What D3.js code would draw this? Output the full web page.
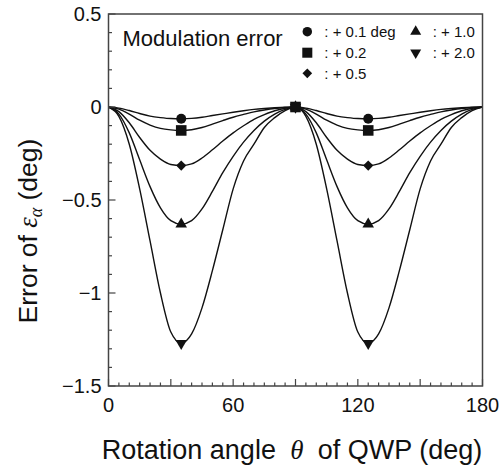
<!DOCTYPE html>
<html>
<head>
<meta charset="utf-8">
<script src="https://cdn.jsdelivr.net/npm/d3@7"></script>
<style>
  html, body { margin: 0; padding: 0; background: #fff; overflow: hidden; }
  svg { display: block; }
  text { font-family: "Liberation Sans", Arial, sans-serif; fill: #111; }
</style>
</head>
<body>
<svg id="chart" width="501" height="469"></svg>
<script>
// rotation angle of the QWP (deg)
const angles = [0, 5, 10, 15, 20, 25, 30, 35, 40, 45, 50, 55, 60, 65, 70, 75, 80, 85, 90,
  95, 100, 105, 110, 115, 120, 125, 130, 135, 140, 145, 150, 155, 160, 165, 170, 175, 180];

// error of epsilon_alpha (deg), one series per modulation error
const err01 = [0, -0.006, -0.019, -0.035, -0.049, -0.057, -0.062, -0.063, -0.061, -0.055, -0.046, -0.037, -0.028, -0.020, -0.013, -0.008, -0.004, -0.001, 0,
  -0.006, -0.019, -0.035, -0.049, -0.057, -0.062, -0.063, -0.061, -0.055, -0.046, -0.037, -0.028, -0.020, -0.013, -0.008, -0.004, -0.001, 0];
const err02 = [0, -0.011, -0.038, -0.071, -0.097, -0.115, -0.123, -0.126, -0.122, -0.110, -0.092, -0.073, -0.055, -0.040, -0.026, -0.016, -0.008, -0.003, 0,
  -0.011, -0.038, -0.071, -0.097, -0.115, -0.123, -0.126, -0.122, -0.110, -0.092, -0.073, -0.055, -0.040, -0.026, -0.016, -0.008, -0.003, 0];
const err05 = [0, -0.025, -0.085, -0.164, -0.233, -0.280, -0.309, -0.315, -0.306, -0.274, -0.230, -0.183, -0.139, -0.101, -0.066, -0.041, -0.020, -0.007, 0,
  -0.025, -0.085, -0.164, -0.233, -0.280, -0.309, -0.315, -0.306, -0.274, -0.230, -0.183, -0.139, -0.101, -0.066, -0.041, -0.020, -0.007, 0];
const err10 = [0, -0.038, -0.139, -0.284, -0.428, -0.542, -0.611, -0.630, -0.611, -0.548, -0.454, -0.353, -0.265, -0.189, -0.126, -0.076, -0.038, -0.013, 0,
  -0.038, -0.139, -0.284, -0.428, -0.542, -0.611, -0.630, -0.611, -0.548, -0.454, -0.353, -0.265, -0.189, -0.126, -0.076, -0.038, -0.013, 0];
const err20 = [0, -0.050, -0.200, -0.440, -0.720, -1.000, -1.210, -1.270, -1.220, -1.080, -0.880, -0.660, -0.440, -0.290, -0.200, -0.110, -0.057, -0.019, 0,
  -0.050, -0.200, -0.440, -0.720, -1.000, -1.210, -1.270, -1.220, -1.080, -0.880, -0.660, -0.440, -0.290, -0.200, -0.110, -0.057, -0.019, 0];

// marker positions (deg) and the marked values for each series
const markerAngles = [35, 90, 125];
const markers01 = [-0.063, 0, -0.063];
const markers02 = [-0.126, 0, -0.126];
const markers05 = [-0.315, 0, -0.315];
const markers10 = [-0.630, 0, -0.630];
const markers20 = [-1.270, 0, -1.270];

const seriesLabels = [": + 0.1 deg", ": + 0.2", ": + 0.5", ": + 1.0", ": + 2.0"];
const xTickLabels = [0, 60, 120, 180];
const yTickLabels = [0.5, 0, -0.5, -1, -1.5];

const svg = d3.select("#chart");
const width = 501, height = 469;
const margin = { top: 14, right: 18.5, bottom: 83, left: 108.5 };

// scales work in page coordinates, so every text can sit directly in the svg
const x = d3.scaleLinear().domain([0, 180]).range([margin.left, width - margin.right]);
const y = d3.scaleLinear().domain([-1.5, 0.5]).range([height - margin.bottom, margin.top]);
const x0 = x(0), x1 = x(180), yBottom = y(-1.5), yTop = y(0.5);

const symbols = [
  { type: d3.symbolCircle, size: 78, rot: 0 },
  { type: d3.symbolSquare, size: 112, rot: 0 },
  { type: d3.symbolSquare, size: 52, rot: 45 },
  { type: d3.symbolTriangle, size: 58, rot: 0 },
  { type: d3.symbolTriangle, size: 58, rot: 180 }
];

const series = [
  { values: err01, marks: markers01 },
  { values: err02, marks: markers02 },
  { values: err05, marks: markers05 },
  { values: err10, marks: markers10 },
  { values: err20, marks: markers20 }
];

// CURVES
const line = d3.line()
  .x(d => x(d[0]))
  .y(d => y(d[1]))
  .curve(d3.curveMonotoneX);

series.forEach(s => {
  svg.append("path")
    .datum(angles.map((a, i) => [a, s.values[i]]))
    .attr("fill", "none")
    .attr("stroke", "#111")
    .attr("stroke-width", 1.4)
    .attr("d", line);
});

// MARKERS (square drawn last so it sits on top at 90 deg)
const drawOrder = [0, 2, 3, 4, 1];
drawOrder.forEach(k => {
  const s = series[k], sym = symbols[k];
  svg.selectAll(null)
    .data(markerAngles.map((a, i) => [a, s.marks[i]]))
    .enter().append("path")
    .attr("d", d3.symbol().type(sym.type).size(sym.size))
    .attr("transform", d => `translate(${x(d[0])},${y(d[1])}) rotate(${sym.rot})`)
    .attr("fill", "#111");
});

// AXES (ticks inside)
const xMinor = d3.range(0, 181, 5);
const yMinor = d3.range(-15, 6).map(v => v / 10);

svg.selectAll(".xtick")
  .data(xMinor)
  .enter().append("line")
  .attr("x1", d => x(d)).attr("x2", d => x(d))
  .attr("y1", yBottom)
  .attr("y2", d => yBottom - (d % 30 === 0 ? 7 : 3.5))
  .attr("stroke", "#444").attr("stroke-width", 1.2);

svg.selectAll(".ytick")
  .data(yMinor)
  .enter().append("line")
  .attr("y1", d => y(d)).attr("y2", d => y(d))
  .attr("x1", x0)
  .attr("x2", d => x0 + (Math.abs(Math.round(d * 10)) % 5 === 0 ? 7 : 3.5))
  .attr("stroke", "#444").attr("stroke-width", 1.2);

svg.append("rect")
  .attr("x", x0).attr("y", yTop)
  .attr("width", x1 - x0).attr("height", yBottom - yTop)
  .attr("fill", "none").attr("stroke", "#444").attr("stroke-width", 1.5);

svg.selectAll(".xlab")
  .data(xTickLabels)
  .enter().append("text")
  .attr("x", d => x(d)).attr("y", yBottom + 26)
  .attr("text-anchor", "middle")
  .style("font-size", "20px")
  .text(d => d);

svg.selectAll(".ylab")
  .data(yTickLabels)
  .enter().append("text")
  .attr("x", x0 - 7).attr("y", d => y(d)).attr("dy", "0.35em")
  .attr("text-anchor", "end")
  .style("font-size", "20px")
  .text(d => d3.format("")(d).replace("-", "\u2212"));

// LEGEND
svg.append("text")
  .attr("x", x0 + 14).attr("y", yTop + 32)
  .style("font-size", "22px")
  .text("Modulation error");

const legendPos = [[307.3, 31.7], [307.3, 52.7], [307.3, 73.3], [415.7, 31.7], [415.7, 52.7]];
legendPos.forEach((p, k) => {
  const sym = symbols[k];
  svg.append("path")
    .attr("d", d3.symbol().type(sym.type).size(sym.size * 0.9))
    .attr("transform", `translate(${p[0]},${p[1]}) rotate(${sym.rot})`)
    .attr("fill", "#111");
  svg.append("text")
    .attr("x", p[0] + 17).attr("y", p[1]).attr("dy", "0.36em")
    .style("font-size", "15px")
    .text(seriesLabels[k]);
});

// AXIS TITLES
const xt = svg.append("text")
  .attr("x", 292).attr("y", 459)
  .attr("text-anchor", "middle")
  .style("font-size", "27px");
xt.append("tspan").text("Rotation angle ");
xt.append("tspan").style("font-family", "'Liberation Serif', serif").style("font-style", "italic").text("\u00a0\u03b8\u00a0");
xt.append("tspan").text(" of QWP (deg)");

const yt = svg.append("text")
  .attr("transform", "translate(37,231) rotate(-90)")
  .attr("text-anchor", "middle")
  .style("font-size", "26.5px");
yt.append("tspan").text("Error of ");
yt.append("tspan").style("font-family", "'Liberation Serif', serif").style("font-style", "italic").text("\u03b5");
yt.append("tspan").style("font-family", "'Liberation Serif', serif").style("font-style", "italic")
  .style("font-size", "18px").attr("dy", 5).text("\u03b1");
yt.append("tspan").attr("dy", -5).text(" (deg)");
</script>
</body>
</html>
